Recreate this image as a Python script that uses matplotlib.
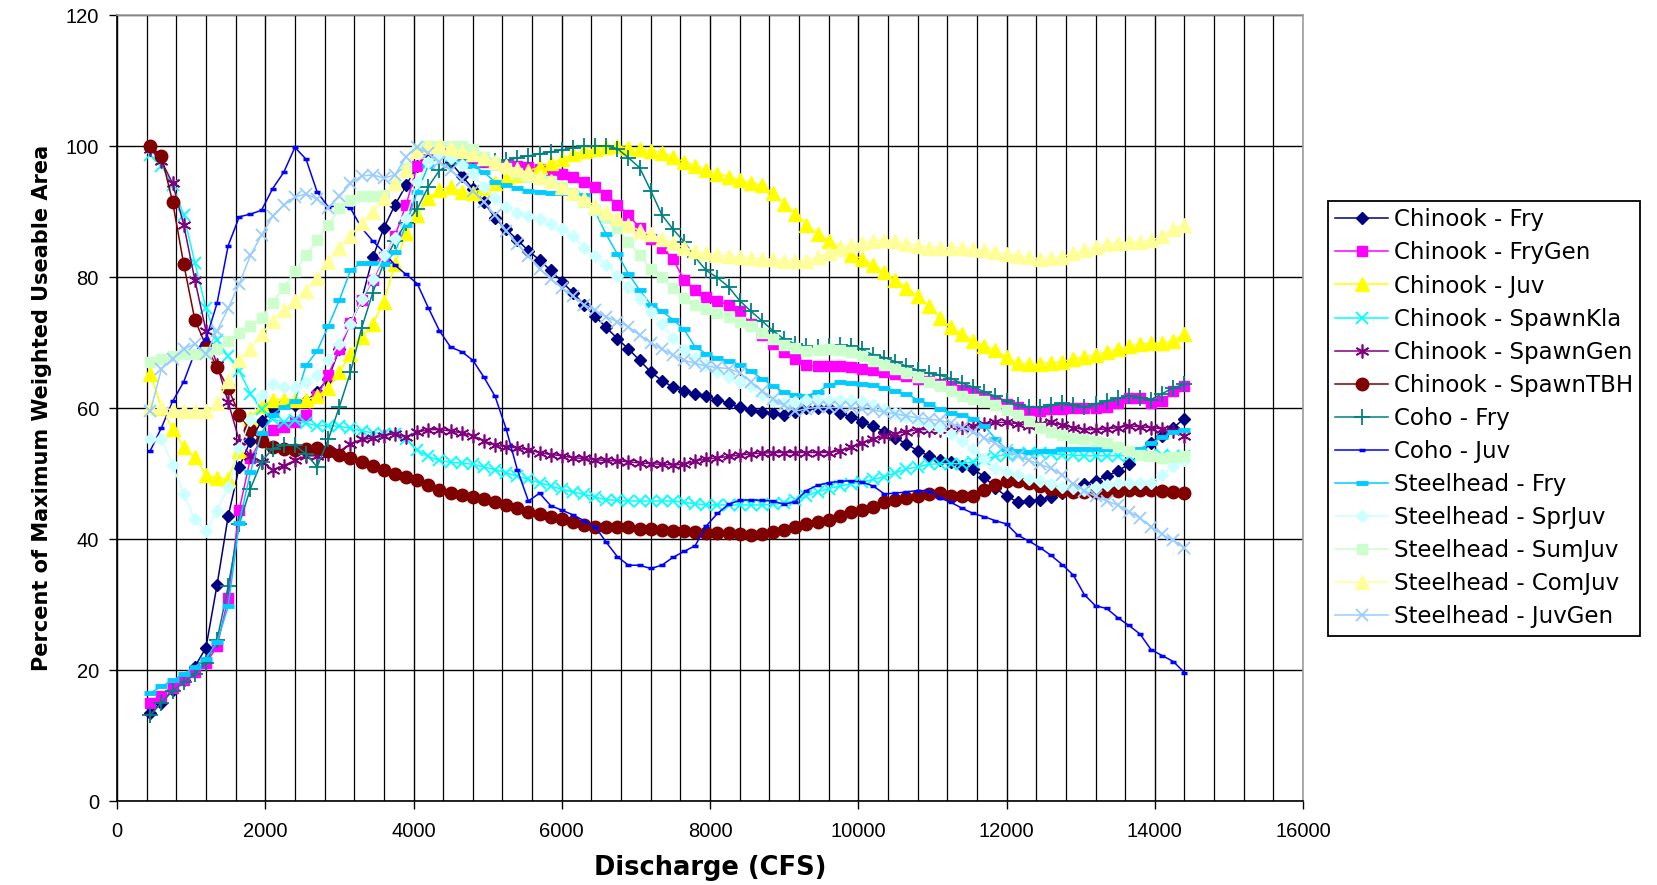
import numpy as np
import matplotlib.pyplot as plt
from matplotlib.ticker import MultipleLocator

# Discharge sample points (CFS)
discharge = np.arange(450, 14401, 150)

chinook_fry = [
    13.5, 15, 17, 18.5, 20.5, 23.4, 33, 43.5, 51, 55,
    58, 59.5, 60.7, 60.4, 61, 62.5, 64.5, 69, 73, 76.5,
    83, 87.5, 91, 94, 97, 99, 99.5, 97.5, 95.5, 93.5,
    91.5, 89, 87.3, 85.7, 84, 82.6, 81, 79.3, 77.6, 75.8,
    74, 72.3, 70.6, 69, 67.3, 65.5, 64.2, 63.2, 62.6, 62.2,
    61.8, 61.3, 60.7, 60.1, 59.7, 59.4, 59.2, 59, 59.4, 60,
    60, 60, 59.3, 58.6, 57.9, 57.2, 56.4, 55.5, 54.5, 53.5,
    52.7, 52.1, 51.8, 51.2, 50.7, 49.5, 47.8, 46.5, 45.7, 45.8,
    46, 46.4, 47, 47.8, 48.4, 48.9, 49.6, 50.4, 51.4, 53,
    54.7, 55.8, 57, 58.4]

chinook_frygen = [
    15, 16, 17.3, 18.5, 19.7, 21, 23.6, 31, 44.5, 52.3,
    55.3, 56.7, 57.1, 57.8, 59, 61.8, 65, 69, 73, 76.5,
    79.5, 83, 86.3, 91, 97, 99.5, 99.8, 99, 98.5, 98,
    97.6, 97.3, 97, 96.9, 96.8, 96.5, 96.2, 95.7, 95.2, 94.5,
    93.7, 92.6, 91, 89.5, 87.5, 85.8, 84.5, 82.8, 79.5, 78,
    77, 76.4, 75.7, 74.8, 72.8, 71.2, 69.8, 68.6, 67.5, 66.5,
    66.4, 66.4, 66.4, 66.3, 66, 65.8, 65.5, 65.2, 64.9, 64.5,
    64.1, 63.7, 63.3, 62.8, 62.3, 61.7, 61.1, 60.6, 60.1, 59.6,
    59.6, 59.8, 59.9, 60, 60, 60, 60.2, 60.8, 61.5, 61.6,
    60.8, 61, 62.6, 63.3]

chinook_juv = [
    65.2, 60, 56.8, 54, 52.5, 49.8, 49.3, 49.2, 53.5, 58.5,
    60.3, 61.3, 61.3, 61.3, 61.3, 61.8, 63, 65.5, 68.2, 70.8,
    72.8, 76.2, 82, 86.7, 89.5, 92, 93.3, 93.8, 93, 92.8,
    93.6, 94.4, 95, 95.6, 96.2, 96.8, 97.4, 98, 98.8, 99.3,
    99.5, 99.9, 100, 99.7, 99.5, 99.3, 99, 98.3, 97.6, 97,
    96.4, 95.8, 95.3, 94.8, 94.4, 94, 92.8, 91.2, 89.7, 88,
    86.6, 85.5, 84.4, 83.4, 82.8, 81.9, 80.7, 79.5, 78.4, 77.1,
    75.6, 73.8, 72.3, 71.3, 70.3, 69.5, 68.8, 67.8, 66.8, 66.7,
    66.7, 66.9, 67.1, 67.5, 67.8, 68.1, 68.6, 69, 69.4, 69.7,
    69.9, 69.9, 70.3, 71.3]

chinook_spawnkla = [
    98.6, 97, 94, 89.5, 82.2, 75.2, 70.4, 67.9, 65.7, 62.2,
    59.8, 58.3, 57.9, 58.1, 57.7, 57.3, 57.3, 57.2, 56.9, 56.5,
    56.2, 56.1, 56.1, 55.3, 53.6, 52.6, 52, 51.7, 51.6, 51.4,
    51, 50.6, 50.1, 49.6, 49.1, 48.6, 48.1, 47.6, 47.2, 46.8,
    46.4, 46, 45.9, 45.8, 45.8, 45.8, 45.8, 45.8, 45.6, 45.4,
    45.2, 45.2, 45.2, 45.2, 45.2, 45.2, 45.3, 45.5, 45.9, 46.6,
    47.2, 47.7, 48.1, 48.4, 48.7, 49.1, 49.5, 50.1, 50.7, 51,
    51.4, 51.5, 51.5, 51.5, 51.8, 52.2, 52.6, 52.9, 53, 53.2,
    53.1, 53, 52.9, 52.8, 52.7, 52.7, 52.7, 52.7, 52.7, 52.8,
    52.9, 52.8, 52.7, 52.7]

chinook_spawngen = [
    99.5, 97.7, 94.3, 88, 79.6, 71.8, 66.6, 60.9, 55, 52.7,
    51.8, 50.6, 51.2, 52, 52.7, 52.7, 53, 53.4, 54.5, 55.2,
    55.4, 55.8, 56.1, 55.6, 56.3, 56.7, 56.7, 56.5, 56.2, 55.8,
    55, 54.3, 54.1, 53.9, 53.6, 53.2, 52.9, 52.7, 52.4, 52.3,
    52.1, 52, 51.9, 51.8, 51.6, 51.5, 51.4, 51.3, 51.4, 51.9,
    52.2, 52.4, 52.6, 52.8, 53, 53.1, 53.2, 53.2, 53.2, 53.2,
    53.2, 53.2, 53.5, 54, 54.7, 55.3, 55.7, 56.1, 56.4, 56.7,
    56.7, 56.7, 56.7, 56.9, 57.2, 57.6, 57.8, 57.8, 57.6, 57.3,
    57.5, 57.8, 57.4, 57, 56.7, 56.7, 56.8, 57, 57.3, 57.1,
    57, 56.8, 56.5, 55.8]

chinook_spawntbh = [
    100, 98.5, 91.5, 82, 73.5, 69.5, 66.2, 63, 59, 56.6,
    55, 54.1, 53.8, 53.6, 53.7, 53.9, 53.4, 52.9, 52.4, 51.8,
    51.2, 50.6, 50, 49.4, 49, 48.3, 47.5, 47, 46.7, 46.4,
    46.1, 45.7, 45.2, 44.7, 44.2, 43.8, 43.3, 43, 42.6, 42.2,
    41.9, 41.8, 41.8, 41.8, 41.6, 41.5, 41.4, 41.3, 41.2, 41,
    40.9, 40.9, 40.9, 40.8, 40.6, 40.8, 41, 41.4, 41.8, 42.3,
    42.6, 42.9, 43.5, 44.1, 44.4, 44.9, 45.6, 46, 46.3, 46.6,
    46.9, 47.1, 46.6, 46.6, 46.6, 47.5, 48.3, 48.9, 48.8, 48.5,
    48.1, 47.7, 47.4, 47.2, 47.2, 47.2, 47.3, 47.4, 47.5, 47.5,
    47.5, 47.3, 47.2, 47]

coho_fry = [
    13.1, 15, 16.8, 18.1, 19.4, 21.1, 24.6, 32.8, 42.3, 47.7,
    51.8, 53.8, 54.3, 54.3, 53, 51, 55.2, 60.2, 65.5, 72.2,
    77.6, 82.2, 85.5, 88.3, 90.4, 93.8, 96.3, 97.2, 97.8, 98,
    97.9, 97.7, 97.8, 98.2, 98.5, 98.8, 99.1, 99.4, 99.7, 100,
    100, 100, 99.6, 98.2, 96.7, 93.2, 89.5, 87.3, 85.4, 83,
    81, 79.9, 78.5, 76.4, 74.8, 73.3, 71.8, 70.5, 69.8, 69.4,
    69.3, 69.5, 69.6, 69.4, 69, 68.1, 67.7, 67.1, 66.4, 65.8,
    65.3, 65, 64.5, 63.8, 63.2, 62.5, 61.8, 61, 60.4, 60.2,
    60.1, 60.4, 60.7, 60.4, 60.1, 60.6, 61.1, 61.5, 61.9, 61.6,
    61.3, 62.2, 63.1, 63.6]

coho_juv = [
    53.5, 57, 61, 64, 68.5, 70.5, 76, 84.8, 89.2, 89.6,
    90.2, 93.5, 96, 99.8, 98, 93, 90.7, 90.9, 90.5, 87.5,
    85.5, 83.8, 81.8, 80.4, 79, 75.3, 71.8, 69.3, 68.6, 67.3,
    64.7, 61.8, 56.8, 50.6, 45.8, 47, 45.1, 44.4, 43.7, 42.8,
    41.9, 39.5, 37.3, 36, 36, 35.5, 36, 37.2, 38.1, 39,
    42, 43.9, 45.3, 45.9, 46, 45.9, 45.8, 45.3, 45.7, 47.4,
    48.2, 48.6, 48.8, 48.9, 48.7, 48.1, 46.9, 47, 47.2, 47.4,
    47.4, 46.3, 45.6, 44.7, 43.9, 43.4, 42.8, 42.3, 40.6, 39.7,
    38.7, 37.5, 36.1, 34.5, 31.5, 29.8, 29.4, 28, 26.8, 25.5,
    23.1, 22.2, 21.3, 19.6]

steelhead_fry = [
    16.5, 17.5, 18.4, 19.4, 20.5, 21.7, 24.3, 29.7, 42.5, 50.2,
    56.2, 59, 60.2, 61, 66.5, 68.7, 72.5, 76.5, 81, 82.2,
    82.2, 82, 83.8, 88, 93, 97, 98.5, 98, 97.5, 97,
    96, 94.5, 94, 93.6, 93.2, 93, 92.8, 92.8, 92.8, 92.5,
    90, 86.5, 83.5, 80.5, 78, 75.8, 74.8, 73.5, 72, 69.3,
    68.3, 67.6, 67.2, 66.6, 65.6, 64.5, 63.3, 62.4, 62, 61.9,
    62.4, 63.5, 63.9, 63.8, 63.7, 63.5, 63, 62.6, 62.1, 61.3,
    60.6, 59.8, 59.3, 59, 58.4, 57.3, 55.3, 53.7, 53.4, 53.3,
    53.4, 53.5, 53.7, 53.8, 53.8, 53.8, 53.8, 53.8, 53.8, 53.8,
    54.6, 55.6, 56.3, 56.7]

steelhead_sprjuv = [
    55.3, 55.3, 51.3, 46.8, 43, 41.2, 44.3, 47.9, 53.9, 58.2,
    62, 63.6, 63.2, 63.2, 64, 65.1, 67.3, 69.8, 72.9, 76.6,
    79.7, 83.4, 85.9, 89, 94.5, 97.5, 98.6, 98.2, 97.1, 95.7,
    93.8, 92, 90.7, 89.8, 89.3, 88.8, 88.1, 87.4, 86.2, 84.5,
    83.2, 81.9, 80.2, 78.5, 76.6, 74.7, 72.8, 70.7, 68.9, 67.6,
    66.5, 65.5, 64.7, 64, 63.3, 62, 61.1, 60.8, 60.9, 61.2,
    61.3, 61.3, 61.3, 61.3, 61, 60.5, 59.9, 59.3, 58.7, 58,
    57.4, 56.9, 56.1, 55, 53.7, 52.2, 50.9, 50.2, 49.7, 49.2,
    48.8, 48.4, 48, 47.8, 47.5, 47.9, 48.3, 48.5, 48.6, 48.6,
    48.6, 49.8, 51.2, 52.1]

steelhead_sumjuv = [
    67, 67.5, 67.9, 68.2, 68.2, 68.5, 69, 70.3, 71.5, 72.6,
    73.8, 76.1, 78.4, 80.9, 83.3, 85.7, 88, 90.5, 91.8, 92.3,
    92.3, 92.6, 94.1, 96.7, 99.4, 100, 100, 100, 100, 99.5,
    98.3, 97.4, 96.6, 95.9, 95.3, 94.9, 94.6, 93.8, 92.8, 91.5,
    90.3, 89, 87.5, 85.4, 83.3, 81.3, 80, 78.3, 76.8, 75.8,
    75.1, 74.5, 73.9, 73.2, 72.5, 71.5, 70.6, 69.6, 69.1, 68.7,
    68.8, 69, 68.8, 68.6, 67.9, 67.2, 66.6, 66, 65.3, 64.7,
    64, 63.3, 62.6, 61.9, 61.4, 61, 60.5, 59.7, 59, 58,
    57, 56.3, 55.9, 55.5, 55.2, 55, 54.6, 54.1, 53.5, 52.9,
    52.6, 52.4, 52.5, 52.7]

steelhead_comjuv = [
    60.1, 60.1, 59.7, 59.5, 59.5, 59.5, 60.8, 64.2, 67.3, 69,
    71.3, 73.3, 74.9, 76.4, 77.9, 79.9, 82.3, 84.4, 86.3, 88.2,
    90, 92, 94.3, 96.4, 99.2, 100, 100, 99.7, 99.3, 98.8,
    98.1, 97.5, 97, 96.5, 95.9, 95.3, 94.6, 93.8, 92.9, 91.9,
    90.9, 89.9, 89, 87.9, 87.1, 86.5, 85.8, 85.2, 84.5, 84,
    83.6, 83.4, 83.2, 83, 82.9, 82.8, 82.7, 82.5, 82.5, 82.5,
    83, 83.6, 84.3, 84.9, 85.2, 85.5, 85.7, 85.5, 85.1, 84.8,
    84.5, 84.5, 84.5, 84.5, 84.3, 84.1, 83.8, 83.5, 83.2, 83,
    82.8, 82.9, 83.1, 83.6, 84.2, 84.6, 85, 85.2, 85.3, 85.4,
    85.6, 86.2, 87.3, 88]

steelhead_juvgen = [
    59.5, 66, 67.5, 69, 69.8, 68.2, 71.8, 75.2, 79, 83.3,
    86.4, 89.3, 91, 92.2, 92.7, 91.9, 90.6, 92.3, 94.3, 95.4,
    95.6, 95.1, 95.6, 98.4, 99.8, 98.9, 97.6, 96.3, 94.8, 93.1,
    91.5, 89.4, 87.1, 85.1, 83.2, 81.3, 79.7, 78.4, 77.1, 75.8,
    74.9, 73.9, 73.2, 72.4, 71.1, 70, 69, 68.1, 67.3, 66.8,
    66.4, 66.2, 66, 65.4, 64, 62.6, 61.4, 60.4, 59.5, 59.9,
    60.1, 60.1, 60.1, 60.1, 59.9, 59.7, 59.4, 59.1, 58.8, 58.5,
    58.3, 58.1, 57.7, 57, 56.4, 55.5, 54.6, 53.6, 52.7, 52,
    51.4, 50.8, 49.8, 48.4, 47.4, 46.5, 45.8, 45.2, 44.2, 43.2,
    41.9, 40.7, 39.8, 38.6]

# label, values, colour, marker, marker size, marker edge width
series = [
    ("Chinook - Fry", chinook_fry, "#000080", "D", 6, 1),
    ("Chinook - FryGen", chinook_frygen, "#FF00FF", "s", 7.5, 1),
    ("Chinook - Juv", chinook_juv, "#FFFF00", "^", 10.5, 1),
    ("Chinook - SpawnKla", chinook_spawnkla, "#00FFFF", "x", 9, 1.3),
    ("Chinook - SpawnGen", chinook_spawngen, "#800080", (6, 2, 0), 10, 1.2),
    ("Chinook - SpawnTBH", chinook_spawntbh, "#800000", "o", 9, 1),
    ("Coho - Fry", coho_fry, "#008080", "+", 11, 1.3),
    ("Coho - Juv", coho_juv, "#0000FF", "_", 4.5, 2.5),
    ("Steelhead - Fry", steelhead_fry, "#00CCFF", "_", 9, 3.5),
    ("Steelhead - SprJuv", steelhead_sprjuv, "#CCFFFF", "D", 6.5, 1),
    ("Steelhead - SumJuv", steelhead_sumjuv, "#CCFFCC", "s", 7.5, 1),
    ("Steelhead - ComJuv", steelhead_comjuv, "#FFFF99", "^", 10.5, 1),
    ("Steelhead - JuvGen", steelhead_juvgen, "#99CCFF", "x", 9, 1.3),
]

fig = plt.figure(figsize=(16.57, 8.85), dpi=100)
ax = fig.add_axes([0.0706, 0.0949, 0.7158, 0.8881])

for z, (label, vals, color, marker, ms, mew) in enumerate(series):
    ax.plot(discharge, vals, color=color, lw=1.1, marker=marker, ms=ms,
            mew=mew, mec=color, mfc=color, label=label, zorder=3 + z)

ax.set_xlim(0, 16000)
ax.set_ylim(0, 120)
ax.xaxis.set_major_locator(MultipleLocator(2000))
ax.xaxis.set_minor_locator(MultipleLocator(400))
ax.yaxis.set_major_locator(MultipleLocator(20))

ax.grid(True, which="major", color="black", lw=1)
ax.grid(True, which="minor", axis="x", color="black", lw=0.9)
ax.set_axisbelow(True)

for side in ("top", "right"):
    ax.spines[side].set_color("#A0A0A0")
    ax.spines[side].set_linewidth(1.2)
for side in ("left", "bottom"):
    ax.spines[side].set_color("black")
    ax.spines[side].set_linewidth(1.2)

ax.tick_params(which="major", direction="out", length=6, width=1,
               labelsize=14.5, pad=7)
ax.tick_params(axis="x", which="major", pad=9)
ax.tick_params(which="minor", length=0)
for lbl in ax.get_xticklabels() + ax.get_yticklabels():
    lbl.set_fontfamily("Liberation Sans")

ax.set_xlabel("Discharge (CFS)", fontsize=18.5, fontweight="bold",
              family="DejaVu Sans", labelpad=10)
ax.set_ylabel("Percent of Maximum Weighted Useable Area", fontsize=15,
              fontweight="bold", family="DejaVu Sans", labelpad=10)

leg = fig.legend(loc="upper left", bbox_to_anchor=(1328 / 1657, 1 - 201 / 885),
                 frameon=True, fancybox=False, framealpha=1, edgecolor="black",
                 prop={"family": "DejaVu Sans", "size": 16.5},
                 handlelength=2.3, handletextpad=0.25, labelspacing=0.44,
                 borderpad=0.32, borderaxespad=0)
leg.get_frame().set_linewidth(1.3)

fig.savefig("out.png", dpi=100, facecolor="white")
